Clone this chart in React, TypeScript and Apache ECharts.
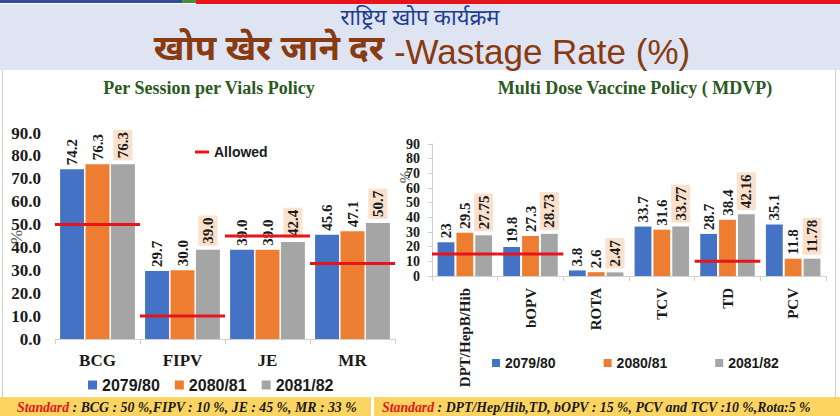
import React, { useEffect, useRef } from 'react';
import * as echarts from 'echarts';

// Programme years (legend entries)
const years = ['2079/80', '2080/81', '2081/82'];

// Per Session per Vials Policy
const leftCategories = ['BCG', 'FIPV', 'JE', 'MR'];
const left2079 = [74.2, 29.7, 39.0, 45.6];
const left2080 = [76.3, 30.0, 39.0, 47.1];
const left2081 = [76.3, 39.0, 42.4, 50.7];
const leftAllowed = [50, 10, 45, 33];

// Multi Dose Vaccine Policy (MDVP)
const rightCategories = ['DPT/HepB/Hib', 'bOPV', 'ROTA', 'TCV', 'TD', 'PCV'];
const right2079 = [23, 19.8, 3.8, 33.7, 28.7, 35.1];
const right2080 = [29.5, 27.3, 2.6, 31.6, 38.4, 11.8];
const right2081 = [27.75, 28.73, 2.47, 33.77, 42.16, 11.78];
const rightAllowed: (number | null)[] = [15, 15, null, null, 10, null];

// Value axis range shared by both panels
const yMin = 0;
const yMax = 90;
const yStep = 10;

const headerLine1 = 'राष्ट्रिय खोप कार्यक्रम';
const headerNepali = 'खोप खेर जाने दर';
const headerEnglish = ' -Wastage Rate (%)';
const leftTitle = 'Per Session per Vials Policy';
const rightTitle = 'Multi Dose Vaccine Policy ( MDVP)';
const leftStandard = ' : BCG : 50 %,FIPV : 10 %, JE : 45 %, MR : 33 %';
const rightStandard = ' : DPT/Hep/Hib,TD, bOPV : 15 %, PCV and TCV :10 %,Rota:5 %';

const COLORS = ['#4472C4', '#ED7D31', '#A5A5A5'];
const RED = '#E8141B';
const SERIF = '"Liberation Serif", "Times New Roman", serif';
const SANS = '"Liberation Sans", Arial, sans-serif';
const DEVA = '"Noto Sans Devanagari", "Noto Sans", sans-serif';
const LABEL_BG = '#FBE0CC';

const allowedRender = (params: any, api: any) => {
  const idx = api.value(0);
  const v = api.value(1);
  const c = api.coord([idx, v]);
  const w = api.size([1, 0])[0];
  return {
    type: 'line',
    shape: { x1: c[0] - w / 2, y1: c[1], x2: c[0] + w / 2, y2: c[1] },
    style: { stroke: RED, lineWidth: 3 },
  };
};

export default function App() {
  const ref = useRef<HTMLDivElement>(null);

  useEffect(() => {
    if (!ref.current) return;
    const chart = echarts.init(ref.current, null, { renderer: 'svg' });

    const leftSeriesData = [left2079, left2080, left2081];
    const rightSeriesData = [right2079, right2080, right2081];

    const barLabel = (i: number, size: number, fmt?: (p: any) => string) => ({
      show: true,
      position: 'top',
      rotate: 90,
      align: 'left',
      verticalAlign: 'middle',
      distance: 4,
      fontFamily: SERIF,
      fontWeight: 'bold',
      fontSize: size,
      color: '#1a1a1a',
      ...(i === 2 ? { backgroundColor: LABEL_BG, padding: [3, 2, 1, 2] } : {}),
      ...(fmt ? { formatter: fmt } : {}),
    });

    const series: any[] = [];
    leftSeriesData.forEach((d, i) => {
      series.push({
        type: 'bar',
        name: years[i],
        xAxisIndex: 0,
        yAxisIndex: 0,
        data: d,
        itemStyle: { color: COLORS[i] },
        barGap: '6%',
        barCategoryGap: '12%',
        label: barLabel(i, 15, (p: any) => Number(p.value).toFixed(1)),
      });
    });
    rightSeriesData.forEach((d, i) => {
      series.push({
        type: 'bar',
        name: years[i],
        xAxisIndex: 1,
        yAxisIndex: 1,
        data: d,
        itemStyle: { color: COLORS[i] },
        barGap: '12%',
        barCategoryGap: '17%',
        label: barLabel(i, 15),
      });
    });
    series.push({
      type: 'custom',
      name: 'Allowed',
      xAxisIndex: 0,
      yAxisIndex: 0,
      itemStyle: { color: RED },
      encode: { x: 0, y: 1 },
      data: leftAllowed.map((v, i) => [i, v]),
      renderItem: allowedRender,
      z: 5,
    });
    series.push({
      type: 'custom',
      name: 'Allowed',
      xAxisIndex: 1,
      yAxisIndex: 1,
      itemStyle: { color: RED },
      encode: { x: 0, y: 1 },
      data: rightAllowed
        .map((v, i) => (v == null ? null : [i, v]))
        .filter((d) => d != null),
      renderItem: allowedRender,
      z: 5,
    });

    const catAxis = (cats: string[], gridIndex: number, extra: any) => ({
      type: 'category',
      gridIndex,
      data: cats,
      axisLine: { show: true, lineStyle: { color: '#D0D0D0', width: 1 } },
      axisTick: { show: true, length: 5, lineStyle: { color: '#D0D0D0' } },
      axisLabel: {
        fontFamily: SERIF,
        fontWeight: 'bold',
        color: '#1a1a1a',
        ...extra,
      },
    });

    const valAxis = (gridIndex: number, extra: any, lineShow: boolean) => ({
      type: 'value',
      gridIndex,
      min: yMin,
      max: yMax,
      interval: yStep,
      splitLine: { show: false },
      axisLine: { show: lineShow, lineStyle: { color: '#D0D0D0' } },
      axisTick: { show: lineShow, length: 4, lineStyle: { color: '#D0D0D0' } },
      axisLabel: {
        fontFamily: SERIF,
        fontWeight: 'bold',
        color: '#1a1a1a',
        showMinLabel: true,
        showMaxLabel: true,
        hideOverlap: false,
        ...extra,
      },
    });

    const footRich = {
      r: { fontFamily: SERIF, fontStyle: 'italic', fontWeight: 'bold', fontSize: 13.8, fill: RED },
      d: { fontFamily: SERIF, fontStyle: 'italic', fontWeight: 'bold', fontSize: 13.8, fill: '#1a1a1a' },
    };

    const unitText = (x: number, y: number, size: number) => ({
      type: 'text',
      x,
      y,
      rotation: Math.PI / 2,
      style: {
        text: '%',
        fill: '#555',
        font: `${size}px ${SERIF}`,
        textAlign: 'center',
        textVerticalAlign: 'middle',
      },
    });

    const option: any = {
      animation: false,
      backgroundColor: '#FFFFFF',
      grid: [
        { left: 55, right: 445, top: 133, bottom: 77 },
        { left: 432, right: 14, top: 144, bottom: 140 },
      ],
      xAxis: [
        catAxis(leftCategories, 0, { fontSize: 17, margin: 13 }),
        catAxis(rightCategories, 1, { fontSize: 15, margin: 12, rotate: 90, interval: 0 }),
      ],
      yAxis: [
        valAxis(0, { fontSize: 17, margin: 14, formatter: (v: number) => v.toFixed(1) }, false),
        valAxis(1, { fontSize: 14, lineHeight: 12, margin: 12 }, true),
      ],
      legend: [
        {
          data: years,
          left: 88,
          top: 377,
          padding: 0,
          itemWidth: 9,
          itemHeight: 9,
          itemGap: 15,
          icon: 'rect',
          textStyle: { fontFamily: SANS, fontWeight: 'bold', fontSize: 16, color: '#1a1a1a' },
          selectedMode: false,
        },
        {
          data: years,
          left: 492,
          top: 356,
          padding: 0,
          itemWidth: 8,
          itemHeight: 8,
          itemGap: 48,
          icon: 'rect',
          textStyle: { fontFamily: SANS, fontWeight: 'bold', fontSize: 14, color: '#1a1a1a' },
          selectedMode: false,
        },
        {
          data: ['Allowed'],
          left: 195,
          top: 145,
          padding: 0,
          itemWidth: 14,
          itemHeight: 3,
          icon: 'rect',
          textStyle: { fontFamily: SANS, fontWeight: 'bold', fontSize: 14, color: '#1a1a1a' },
          selectedMode: false,
        },
      ],
      graphic: [
        // top accent strip
        { type: 'rect', shape: { x: 0, y: 0, width: 182, height: 3 }, style: { fill: '#2F4E97' } },
        { type: 'rect', shape: { x: 182, y: 0, width: 14, height: 3 }, style: { fill: '#4C8A3E' } },
        { type: 'rect', shape: { x: 196, y: 0, width: 644, height: 4 }, style: { fill: RED } },
        // header band
        { type: 'rect', shape: { x: 0, y: 4, width: 840, height: 66 }, style: { fill: '#DEE4F2' } },
        {
          type: 'text',
          x: 420,
          y: 19,
          style: {
            text: headerLine1,
            fill: '#1E3C8F',
            font: `22px ${DEVA}`,
            lineHeight: 22,
            textAlign: 'center',
            textVerticalAlign: 'middle',
          },
        },
        {
          type: 'text',
          x: 422,
          y: 51,
          style: {
            text: `{n|${headerNepali}}{e|${headerEnglish}}`,
            textAlign: 'center',
            textVerticalAlign: 'middle',
            rich: {
              n: { fontFamily: DEVA, fontWeight: 'bold', fontSize: 35, lineHeight: 30, fill: '#8A3A10' },
              e: { fontFamily: SANS, fontSize: 35, lineHeight: 30, fill: '#8A3A10' },
            },
          },
        },
        // panel borders
        { type: 'rect', shape: { x: 2, y: 70, width: 1, height: 327 }, style: { fill: '#CFCFCF' } },
        { type: 'rect', shape: { x: 835, y: 70, width: 1, height: 327 }, style: { fill: '#CFCFCF' } },
        // panel titles
        {
          type: 'text',
          x: 209,
          y: 88,
          style: {
            text: leftTitle,
            fill: '#2A5A1E',
            font: `bold 18px ${SERIF}`,
            textAlign: 'center',
            textVerticalAlign: 'middle',
          },
        },
        {
          type: 'text',
          x: 635,
          y: 88,
          style: {
            text: rightTitle,
            fill: '#2A5A1E',
            font: `bold 18px ${SERIF}`,
            textAlign: 'center',
            textVerticalAlign: 'middle',
          },
        },
        // value-axis unit marks
        unitText(16, 237, 17),
        unitText(405, 177, 15),
        // footer standards
        { type: 'rect', shape: { x: 0, y: 397, width: 371, height: 19 }, style: { fill: '#FCD462' } },
        { type: 'rect', shape: { x: 374, y: 397, width: 466, height: 19 }, style: { fill: '#FCD462' } },
        {
          type: 'text',
          x: 17,
          y: 407,
          style: {
            text: `{r|Standard}{d|${leftStandard}}`,
            textVerticalAlign: 'middle',
            rich: footRich,
          },
        },
        {
          type: 'text',
          x: 382,
          y: 407,
          style: {
            text: `{r|Standard}{d|${rightStandard}}`,
            textVerticalAlign: 'middle',
            rich: footRich,
          },
        },
      ],
      series,
    };

    chart.setOption(option);
    return () => chart.dispose();
  }, []);

  return (
    <div
      ref={ref}
      style={{ position: 'fixed', left: 0, top: 0, width: 840, height: 416 }}
    />
  );
}
